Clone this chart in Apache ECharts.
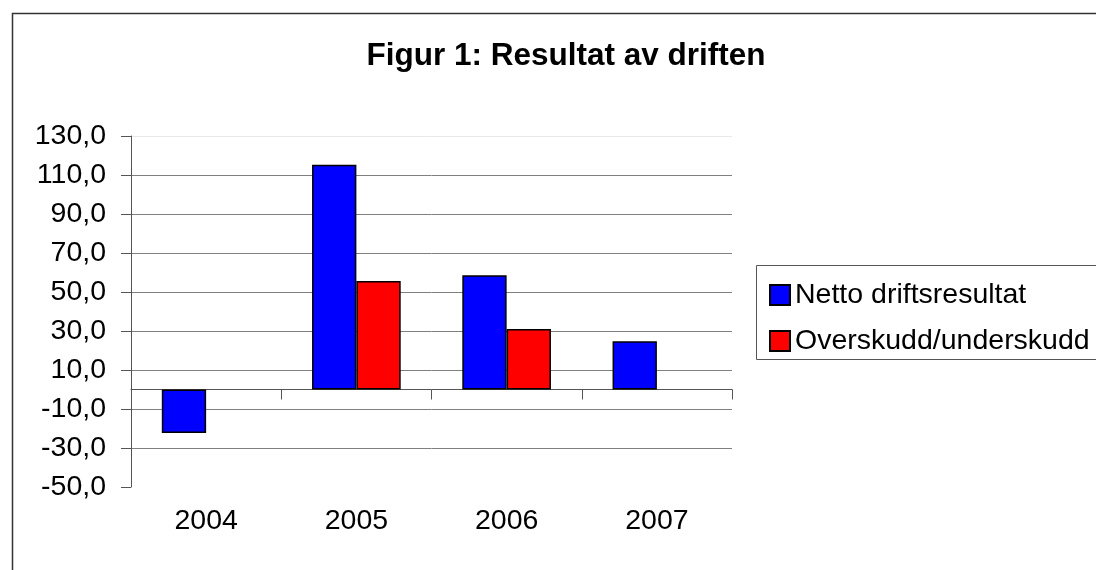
<!DOCTYPE html>
<html>
<head>
<meta charset="utf-8">
<script src="https://cdn.jsdelivr.net/npm/echarts@6/dist/echarts.min.js"></script>
<style>
html,body{margin:0;padding:0;background:#fff;}
#c{width:1096px;height:570px;}
</style>
</head>
<body>
<div id="c"></div>
<script>
var categories = ['2004', '2005', '2006', '2007'];
var nettoDriftsresultat = [-22.3, 115.3, 58.6, 24.8];
var overskuddUnderskudd = [null, 55.6, 31.0, null];
var seriesNames = ['Netto driftsresultat', 'Overskudd/underskudd'];
var titleText = 'Figur 1: Resultat av driften';
var yMin = -50, yMax = 130, yStep = 20;

var FONT = '"Liberation Sans", Arial, sans-serif';
var chart = echarts.init(document.getElementById('c'));

function fmt(v) { return v.toFixed(1).replace('.', ','); }

var gridColors = [];
var nLines = (yMax - yMin) / yStep + 1;
for (var i = 0; i < nLines; i++) {
  if (i === 0) gridColors.push('rgba(0,0,0,0)');
  else if (i === nLines - 1) gridColors.push('#e8e8e8');
  else gridColors.push('#7f7f7f');
}

chart.setOption({
  backgroundColor: '#ffffff',
  animation: false,
  title: {
    text: titleText,
    left: 561, top: 35, textAlign: 'center',
    textStyle: { fontFamily: FONT, fontWeight: 'bold', fontSize: 31.5, color: '#000' }
  },
  graphic: [
    { type: 'rect', left: 10, top: 11, shape: { width: 1200, height: 700 },
      style: { fill: 'none', stroke: '#333', lineWidth: 1.5 }, silent: true },
    { type: 'rect', left: 754, top: 263, shape: { width: 400, height: 94 },
      style: { fill: 'none', stroke: '#555', lineWidth: 1 }, silent: true }
  ],
  legend: {
    orient: 'vertical', left: 764, top: 275,
    itemWidth: 20, itemHeight: 20, itemGap: 16,
    icon: 'rect',
    textStyle: { fontFamily: FONT, fontSize: 28.5, color: '#000', lineHeight: 30 },
    data: seriesNames
  },
  grid: { left: 131, top: 136, width: 601, height: 351, containLabel: false },
  xAxis: [
    { type: 'category', data: categories, position: 'bottom',
      axisLine: { show: false }, axisTick: { show: false },
      axisLabel: { fontFamily: FONT, fontSize: 28.5, color: '#000', margin: 20 } },
    { type: 'category', data: categories, position: 'bottom',
      axisLine: { show: true, onZero: true, onZeroAxisIndex: 0, lineStyle: { color: '#555', width: 1 } },
      axisTick: { show: true, length: 10, inside: false, lineStyle: { color: '#555' } },
      axisLabel: { show: false } }
  ],
  yAxis: [
    { type: 'value', min: yMin, max: yMax, position: 'left',
      axisLine: { show: false }, axisTick: { show: false },
      axisLabel: { show: false }, splitLine: { show: false } },
    { type: 'value', min: 0, max: yMax - yMin, interval: yStep, position: 'left',
      axisLine: { show: true, lineStyle: { color: '#555', width: 1 } },
      axisTick: { show: true, length: 10, lineStyle: { color: '#555' } },
      axisLabel: { fontFamily: FONT, fontSize: 28.5, color: '#000', margin: 25,
        formatter: function (v) { return fmt(v + yMin); } },
      splitLine: { show: true, lineStyle: { color: gridColors, width: 1 } } }
  ],
  series: [
    { name: seriesNames[0], type: 'bar', xAxisIndex: 0, yAxisIndex: 0,
      data: nettoDriftsresultat, barGap: '0%', barCategoryGap: '41%',
      itemStyle: { color: '#0000ff', borderColor: '#000', borderWidth: 1.5 } },
    { name: seriesNames[1], type: 'bar', xAxisIndex: 0, yAxisIndex: 0,
      data: overskuddUnderskudd, barGap: '0%', barCategoryGap: '41%',
      itemStyle: { color: '#ff0000', borderColor: '#000', borderWidth: 1.5 } }
  ]
});
</script>
</body>
</html>
